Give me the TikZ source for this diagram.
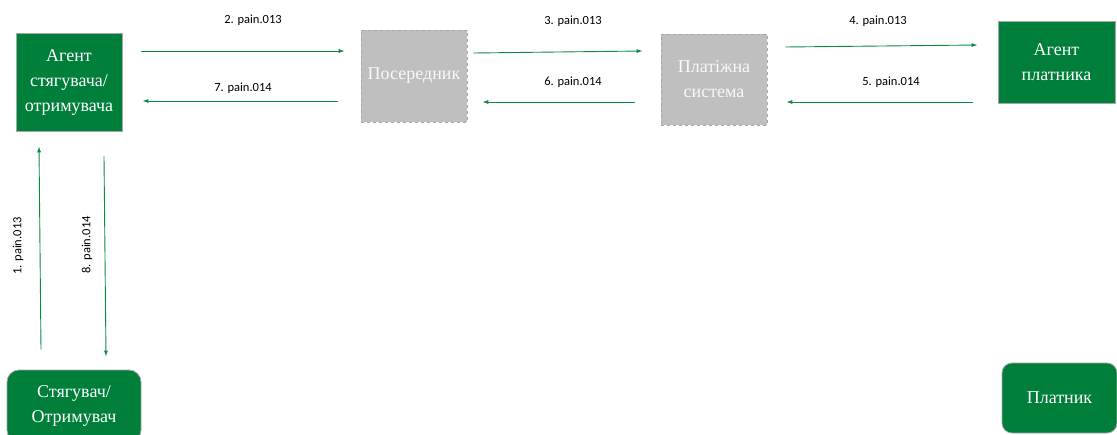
\documentclass[tikz,border=0pt]{standalone}
\usepackage{fontspec}
\usetikzlibrary{arrows.meta}
\setmainfont{Liberation Serif}
\newfontfamily\boxfont{Liberation Serif}
\newfontfamily\lblfont{Carlito}
\definecolor{boxgreen}{HTML}{007F3B}
\definecolor{arrgreen}{HTML}{0A8A45}
\definecolor{boxgray}{HTML}{BFBFBF}
\definecolor{edgegray}{HTML}{A6A6A6}
\begin{document}
\begin{tikzpicture}[x=1pt,y=-1pt,
  greenbox/.style={draw=edgegray,line width=0.8pt,fill=boxgreen,text=white,align=center,
     font=\boxfont\fontsize{18}{25}\selectfont,inner sep=0pt},
  graybox/.style={draw=edgegray,dashed,line width=0.6pt,fill=boxgray,text=white!95!gray,align=center,
     font=\boxfont\fontsize{18}{25}\selectfont,inner sep=0pt},
  arr/.style={draw=arrgreen,line width=0.9pt,-{Latex[length=6pt,width=4pt]}},
  lbl/.style={font=\lblfont\fontsize{12.5}{14}\selectfont,text=black,inner sep=0pt}]
\useasboundingbox (0,0) rectangle (1117,434);
\node[greenbox,minimum width=106pt,minimum height=98pt] (A) at (69,82) {Агент\\стягувача/\\отримувача};
\node[graybox,minimum width=106pt,minimum height=92pt] (P) at (414,76) {Посередник};
\node[graybox,minimum width=106pt,minimum height=91pt] (S) at (714,79.5) {Платіжна\\система};
\node[greenbox,minimum width=117pt,minimum height=82pt] (B) at (1056.5,62) {Агент\\платника};
\node[greenbox,rounded corners=12pt,minimum width=134pt,minimum height=72pt] (C) at (74,406) {Стягувач/\\Отримувач};
\node[greenbox,rounded corners=10pt,minimum width=115pt,minimum height=70pt] (D) at (1059.5,398) {Платник};
% top arrows
\draw[arr] ([shift={(19,-31)}]A.east) -- ([shift={(-16,-25)}]P.west);
\draw[arr] ([shift={(-23,25)}]P.west) -- ([shift={(20,19)}]A.east);
\draw[arr] ([shift={(6,-23)}]P.east) -- ([shift={(-18,-28.5)}]S.west);
\draw[arr] ([shift={(-26,22.5)}]S.west) -- ([shift={(15,26)}]P.east);
\draw[arr] ([shift={(18,-32.5)}]S.east) -- ([shift={(-20,-17)}]B.west);
\draw[arr] ([shift={(-25,40)}]B.west) -- ([shift={(19,22.5)}]S.east);
% vertical arrows
\draw[arr] ([shift={(-33,-20)}]C.north) -- ([shift={(-30,15)}]A.south);
\draw[arr] ([shift={(35,25)}]A.south) -- ([shift={(32,-13)}]C.north);
% labels
\node[lbl] (l2) at (253,20) {2. pain.013};
\node[lbl] (l7) at (243,88) {7. pain.014};
\node[lbl] (l3) at (573,21) {3. pain.013};
\node[lbl] (l6) at (573,82) {6. pain.014};
\node[lbl] (l4) at (878,21) {4. pain.013};
\node[lbl] (l5) at (891,82) {5. pain.014};
\node[lbl,rotate=90] (l1) at (18,246) {1. pain.013};
\node[lbl,rotate=90] (l8) at (87,245) {8. pain.014};
\end{tikzpicture}
\end{document}
